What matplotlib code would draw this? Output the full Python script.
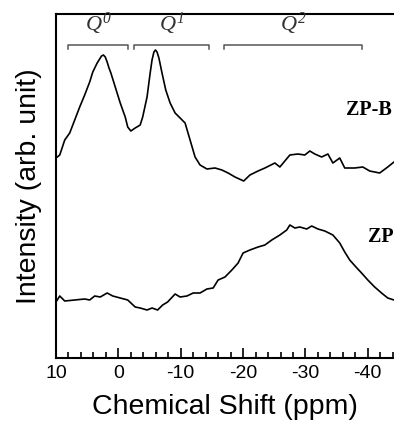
import numpy as np
import matplotlib
matplotlib.use("Agg")
import matplotlib.pyplot as plt

plt.rcParams["font.family"] = ["Liberation Sans", "DejaVu Sans"]
plt.rcParams["mathtext.fontset"] = "custom"
plt.rcParams["mathtext.it"] = "Liberation Serif:italic"
plt.rcParams["mathtext.rm"] = "Liberation Serif:italic"

# ZP-B spectrum (ppm, arb. intensity)
zpb_shift = [10.0, 9.4, 8.6, 7.8, 7.0, 6.2, 5.4, 4.6, 4.1, 3.4, 3.1, 2.7, 2.4, 2.1,
             1.8, 1.5, 1.2, 0.5, -0.3, -1.1, -1.5, -2.0, -2.7, -3.5, -3.9, -4.6,
             -5.1, -5.4, -5.7, -5.95, -6.2, -6.5, -7.0, -7.6, -8.3, -9.1, -9.9,
             -10.7, -11.5, -12.3, -13.1, -14.2, -15.5, -16.6, -17.6, -18.7, -20.1,
             -21.1, -22.4, -23.5, -25.1, -25.9, -27.5, -28.8, -29.9, -30.7, -31.5,
             -32.6, -33.6, -34.4, -35.5, -36.3, -37.9, -39.2, -40.3, -41.9, -43.2,
             -44.2]
zpb_int = [200, 203, 218, 225, 238, 251, 263, 276, 286, 295, 298, 302, 303, 301,
           296, 290, 285, 271, 255, 241, 231, 227, 230, 233, 241, 261,
           285, 298, 306, 308, 306, 300, 285, 268, 255, 245, 240,
           235, 218, 201, 193, 189, 190, 188, 185, 181, 177,
           183, 187, 190, 195, 191, 203, 204, 203, 207, 204,
           201, 204, 195, 200, 190, 190, 191, 187, 185, 191,
           196]

# ZP spectrum
zp_shift = [10.0, 9.4, 8.6, 7.0, 5.4, 4.6, 3.8, 2.9, 1.8, 0.9, -0.3, -1.5, -2.7,
            -3.5, -4.6, -5.4, -6.3, -7.1, -7.9, -9.1, -9.9, -11.0, -12.0, -13.1,
            -14.2, -15.2, -16.0, -17.1, -18.2, -19.2, -20.0, -21.1, -22.4, -23.5,
            -24.6, -25.9, -27.0, -27.5, -28.3, -29.1, -30.2, -31.0, -32.0, -33.1,
            -34.4, -35.5, -36.3, -37.1, -38.1, -39.0, -40.0, -41.1, -42.2, -43.2,
            -44.2]
zp_int = [56, 62, 57, 58, 59, 58, 62, 61, 65, 62, 60, 58, 51,
          50, 48, 50, 48, 53, 56, 64, 61, 62, 65, 65,
          69, 70, 78, 81, 88, 95, 105, 108, 111, 113,
          118, 123, 128, 133, 130, 131, 129, 132, 129, 127,
          123, 115, 106, 98, 91, 85, 78, 71, 65, 60,
          58]

# Q^n regions (ppm)
q_labels = ["0", "1", "2"]
q_start = [8.0, -2.5, -17.0]
q_end = [-1.5, -14.5, -39.0]

fig = plt.figure(figsize=(3.94, 4.21), dpi=100)
ax = fig.add_axes([56 / 394, 63 / 421, 1 - 56 / 394, 344 / 421])

ax.plot(zpb_shift, zpb_int, color="black", lw=1.2)
ax.plot(zp_shift, zp_int, color="black", lw=1.2)

for lab, a, b in zip(q_labels, q_start, q_end):
    ax.plot([a, a, b, b], [309, 313, 313, 309], color="#555555", lw=1.1)
    ax.text((a + b) / 2, 334, r"$\mathit{Q}^{\mathit{%s}}$" % lab, ha="center",
            va="center", fontsize=16, color="#333333")

ax.text(-36.5, 248, "ZP-B", family="Liberation Serif", fontweight="bold",
        fontsize=14.5, ha="left", va="center")
ax.text(-40.0, 121, "ZP", family="Liberation Serif", fontweight="bold",
        fontsize=14.5, ha="left", va="center")

ax.set_xlim(10, -44.2)
ax.set_ylim(0, 344)
ax.set_xticks([10, 0, -10, -20, -30, -40])
ax.set_xticklabels(["10", "0", "-10", "-20", "-30", "-40"])
ax.set_xticks(np.arange(10, -45, -2), minor=True)
ax.set_yticks([])
ax.tick_params(axis="x", which="major", direction="in", length=7, width=1.2,
               labelsize=14, pad=5)
ax.tick_params(axis="x", which="minor", direction="in", length=4.5, width=1.2)
ax.spines["right"].set_visible(False)
for s in ("left", "top", "bottom"):
    ax.spines[s].set_linewidth(1.5)

ax.set_xlabel("Chemical Shift (ppm)", fontsize=20.5, labelpad=9)
ax.set_ylabel("Intensity (arb. unit)", fontsize=20.5, labelpad=10)

fig.savefig("out.png", dpi=100)
